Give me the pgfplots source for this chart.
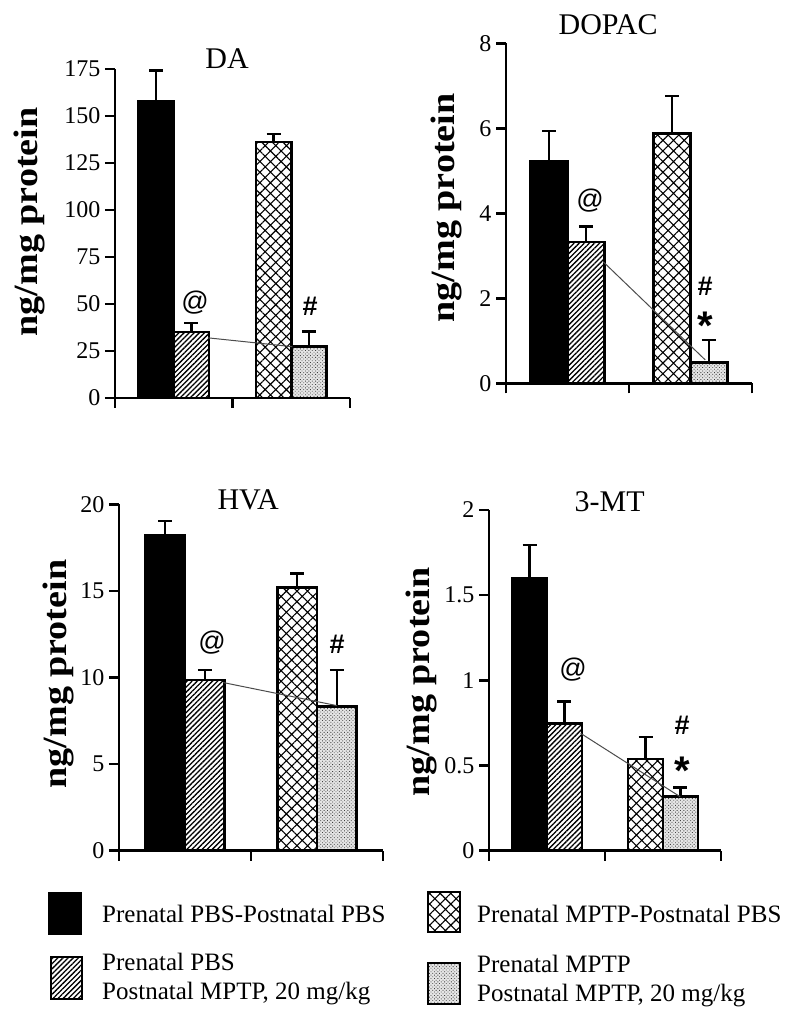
\documentclass[border=0pt]{standalone}
\usepackage{pgfplots}
\pgfplotsset{compat=1.18}
\usepackage{graphicx}
\usepackage{fontspec}
\setmainfont{Liberation Serif}
\newfontfamily\arialfont{Liberation Sans}
\usetikzlibrary{patterns.meta}

\pgfplotsset{
 panel/.style={
  scale only axis, anchor=south west,
  xmin=0, xmax=2, ymin=0,
  axis lines=left, axis line style={-, line width=2.5pt},
  x axis line style={shorten <=-10pt},
  xtick={0,1,2}, xticklabels={},
  tick align=outside, major tick length=10pt,
  tick style={line width=2.5pt, black},
  ybar, bar width=0.3, bar shift=0pt,
  clip=false,
  /pgf/number format/assume math mode=true,
  yticklabel style={font=\fontsize{24}{24}\selectfont, xshift=-1pt},
  ylabel={\scalebox{1.12}[1]{ng/mg protein}},
  ylabel style={font=\fontsize{34}{34}\selectfont\bfseries, anchor=center},
 },
 eb/.style={error bars/.cd, y dir=plus, y explicit,
   error bar style={line width=2.5pt, black},
   error mark options={rotate=90, mark size=7pt, line width=2.5pt, black}},
 gblack/.style={draw=black, fill=black, line width=2.5pt, eb},
 ghatch/.style={draw=black, line width=2.5pt, preaction={fill=white}, pattern={Lines[angle=45,distance=3.6pt,line width=1.3pt]}, pattern color=black, eb},
 gcross/.style={draw=black, line width=2.5pt, preaction={fill=white}, pattern={Hatch[angle=45,distance=7.5pt,line width=1.1pt]}, pattern color=black, eb},
 gdots/.style={draw=black, line width=2.5pt, preaction={fill=gray!20}, pattern={Dots[angle=45,distance=2.4pt,radius=0.6pt]}, pattern color=black!75, eb},
 conn/.style={sharp plot, draw=gray!60!black, line width=1pt, mark=none},
}
\tikzset{
 ann/.style={font=\arialfont\fontsize{27}{27}\selectfont},
 annb/.style={font=\arialfont\bfseries\fontsize{27}{27}\selectfont},
 annstar/.style={font=\arialfont\bfseries\fontsize{40}{40}\selectfont},
 ttl/.style={font=\fontsize{30}{30}\selectfont},
}

\begin{document}
\begin{tikzpicture}[x=1pt,y=1pt]
\path[use as bounding box] (0,0) rectangle (796,1026);

% DA
\begin{axis}[panel, at={(115pt,628pt)}, width=235pt, height=329pt,
  ymax=175, ytick={0,25,...,175},
  ylabel style={at={(axis description cs:-0.362,0.535)}}]
\addplot[gblack] coordinates {(0.35,157.6) +- (0,16.5)};
\addplot[ghatch] coordinates {(0.65,35) +- (0,5)};
\addplot[gcross] coordinates {(1.35,136.2) +- (0,4.2)};
\addplot[gdots] coordinates {(1.65,27.3) +- (0,8)};
\addplot[conn] coordinates {(0.79,32) (1.51,27.3)};
\node[ann] at (axis cs:0.681,51) {@};
\node[annb] at (axis cs:1.66,49) {\#};
\node[ttl] at (axis description cs:0.477,1.033) {DA};
\end{axis}

% DOPAC
\begin{axis}[panel, at={(506pt,642.7pt)}, width=246pt, height=340pt,
  ymax=8, ytick={0,2,...,8},
  ylabel style={at={(axis description cs:-0.242,0.516)}}]
\addplot[gblack] coordinates {(0.35,5.23) +- (0,0.71)};
\addplot[ghatch] coordinates {(0.65,3.32) +- (0,0.37)};
\addplot[gcross] coordinates {(1.35,5.88) +- (0,0.88)};
\addplot[gdots] coordinates {(1.65,0.49) +- (0,0.53)};
\addplot[conn] coordinates {(0.79,2.86) (1.62,0.55)};
\node[ann] at (axis cs:0.683,4.31) {@};
\node[annb] at (axis cs:1.618,2.29) {\#};
\node[annstar] at (axis cs:1.618,1.35) {*};
\node[ttl] at (axis description cs:0.415,1.054) {DOPAC};
\end{axis}

% HVA
\begin{axis}[panel, at={(119pt,175.3pt)}, width=264pt, height=346.3pt,
  ymax=20, ytick={0,5,...,20},
  ylabel style={at={(axis description cs:-0.229,0.51)}}]
\addplot[gblack] coordinates {(0.35,18.2) +- (0,0.85)};
\addplot[ghatch] coordinates {(0.65,9.86) +- (0,0.58)};
\addplot[gcross] coordinates {(1.35,15.2) +- (0,0.8)};
\addplot[gdots] coordinates {(1.65,8.32) +- (0,2.12)};
\addplot[conn] coordinates {(0.79,9.71) (1.65,8.38)};
\node[ann] at (axis cs:0.705,12.0) {@};
\node[annb] at (axis cs:1.652,11.9) {\#};
\node[ttl] at (axis description cs:0.489,1.013) {HVA};
\end{axis}

% 3-MT
\begin{axis}[panel, at={(489pt,175.3pt)}, width=232pt, height=340.7pt,
  ymax=2, ytick={0,0.5,1,1.5,2},
  ylabel style={at={(axis description cs:-0.29,0.495)}}]
\addplot[gblack] coordinates {(0.35,1.60) +- (0,0.195)};
\addplot[ghatch] coordinates {(0.65,0.748) +- (0,0.127)};
\addplot[gcross] coordinates {(1.35,0.538) +- (0,0.128)};
\addplot[gdots] coordinates {(1.65,0.317) +- (0,0.055)};
\addplot[conn] coordinates {(0.79,0.689) (1.647,0.317)};
\node[ann] at (axis cs:0.724,1.061) {@};
\node[annb] at (axis cs:1.664,0.739) {\#};
\node[annstar] at (axis cs:1.664,0.47) {*};
\node[ttl] at (axis description cs:0.52,1.023) {3-MT};
\end{axis}

% Legend
\begin{scope}[every node/.style={font=\fontsize{25}{25}\selectfont, anchor=base west, inner sep=0pt}]
\draw[line width=2pt, fill=black] (49,92) rectangle (81,133);
\node at (102,103) {Prenatal PBS-Postnatal PBS};
\draw[line width=2pt, pattern={Lines[angle=45,distance=3.6pt,line width=1.3pt]}] (51,27) rectangle (82,69);
\node at (102,55) {Prenatal PBS};
\node at (102,26) {Postnatal MPTP, 20 mg/kg};
\draw[line width=2pt, preaction={fill=white}, pattern={Hatch[angle=45,distance=7.5pt,line width=1.1pt]}] (428,94) rectangle (460,134);
\node at (477,103) {Prenatal MPTP-Postnatal PBS};
\draw[line width=2pt, preaction={fill=gray!20}, pattern={Dots[angle=45,distance=2.4pt,radius=0.6pt]}, pattern color=black!75] (428,22) rectangle (460,63);
\node at (477,53) {Prenatal MPTP};
\node at (477,24) {Postnatal MPTP, 20 mg/kg};
\end{scope}
\end{tikzpicture}
\end{document}
